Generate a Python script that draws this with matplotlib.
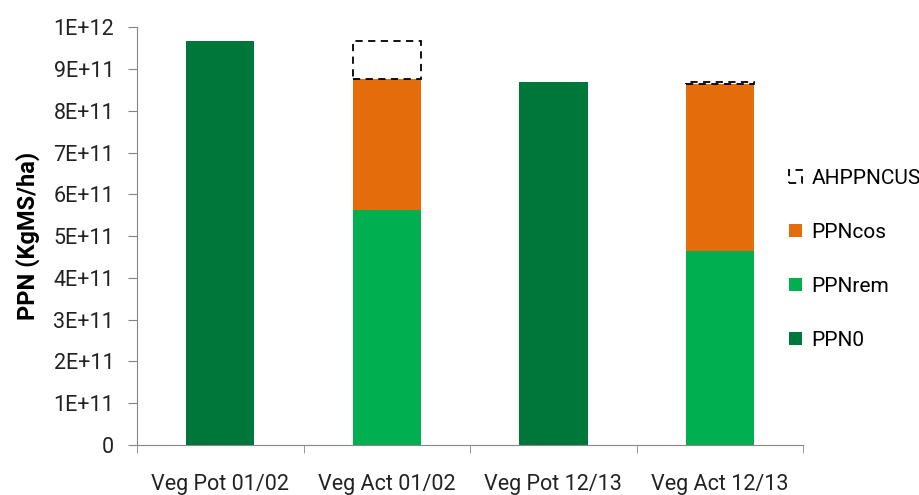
import matplotlib.pyplot as plt
import numpy as np

plt.rcParams['font.family'] = ['Roboto', 'DejaVu Sans']

categories = ['Veg Pot 01/02', 'Veg Act 01/02', 'Veg Pot 12/13', 'Veg Act 12/13']
ppn0 = [9.66e11, 0, 8.68e11, 0]
ppnrem = [0, 5.62e11, 0, 4.64e11]
ppncos = [0, 3.14e11, 0, 4.00e11]
ahppncus = [0, 0.90e11, 0, 0.04e11]

c_ppn0 = '#00773A'
c_rem = '#00AF50'
c_cos = '#E46C0A'
axcol = '#868686'

fig = plt.figure(figsize=(9.2, 4.95), dpi=100)
ax = fig.add_axes([0.149, 0.101, 0.724, 0.844])

x = np.arange(len(categories))
w = 0.41
ppn0 = np.array(ppn0)
ppnrem = np.array(ppnrem)
ppncos = np.array(ppncos)
ahppncus = np.array(ahppncus)
m = ahppncus > 0

b0 = ax.bar(x, ppn0, w, color=c_ppn0, label='PPN0', zorder=2)
b1 = ax.bar(x, ppnrem, w, color=c_rem, label='PPNrem', zorder=2)
b2 = ax.bar(x, ppncos, w, bottom=ppnrem, color=c_cos, label='PPNcos', zorder=2)
b3 = ax.bar(x[m], ahppncus[m], w, bottom=(ppnrem + ppncos)[m], fill=False,
            edgecolor='black', linestyle=(0, (4, 3)), linewidth=1.3,
            label='AHPPNCUS', zorder=3)

ax.set_xlim(-0.5, len(categories) - 0.5)
ax.set_ylim(0, 1e12)
yt = np.arange(0, 11) * 1e11
ax.set_yticks(yt)
ax.set_yticklabels(['0'] + ['%dE+11' % i for i in range(1, 10)] + ['1E+12'],
                   fontsize=15.5, color='#222222')
ax.set_xticks(x)
ax.set_xticklabels(categories, fontsize=15.5, color='#222222')
ax.set_xticks(np.arange(len(categories) + 1) - 0.5, minor=True)
ax.tick_params(axis='x', which='major', length=0, pad=21)
ax.tick_params(axis='x', which='minor', length=6, color=axcol)
ax.tick_params(axis='y', length=6.5, color=axcol, pad=10)

for s in ['top', 'right']:
    ax.spines[s].set_visible(False)
for s in ['left', 'bottom']:
    ax.spines[s].set_color(axcol)

ax.set_ylabel('PPN (KgMS/ha)', fontsize=17, fontweight='bold', labelpad=10)

leg = fig.legend(handles=[b3, b2, b1, b0], loc='center left',
                 bbox_to_anchor=(0.858, 0.476), frameon=False, fontsize=15,
                 handlelength=0.6, handleheight=0.6, handletextpad=0.45,
                 labelspacing=1.67, borderpad=0, borderaxespad=0)

fig.savefig('out.png', dpi=100)
